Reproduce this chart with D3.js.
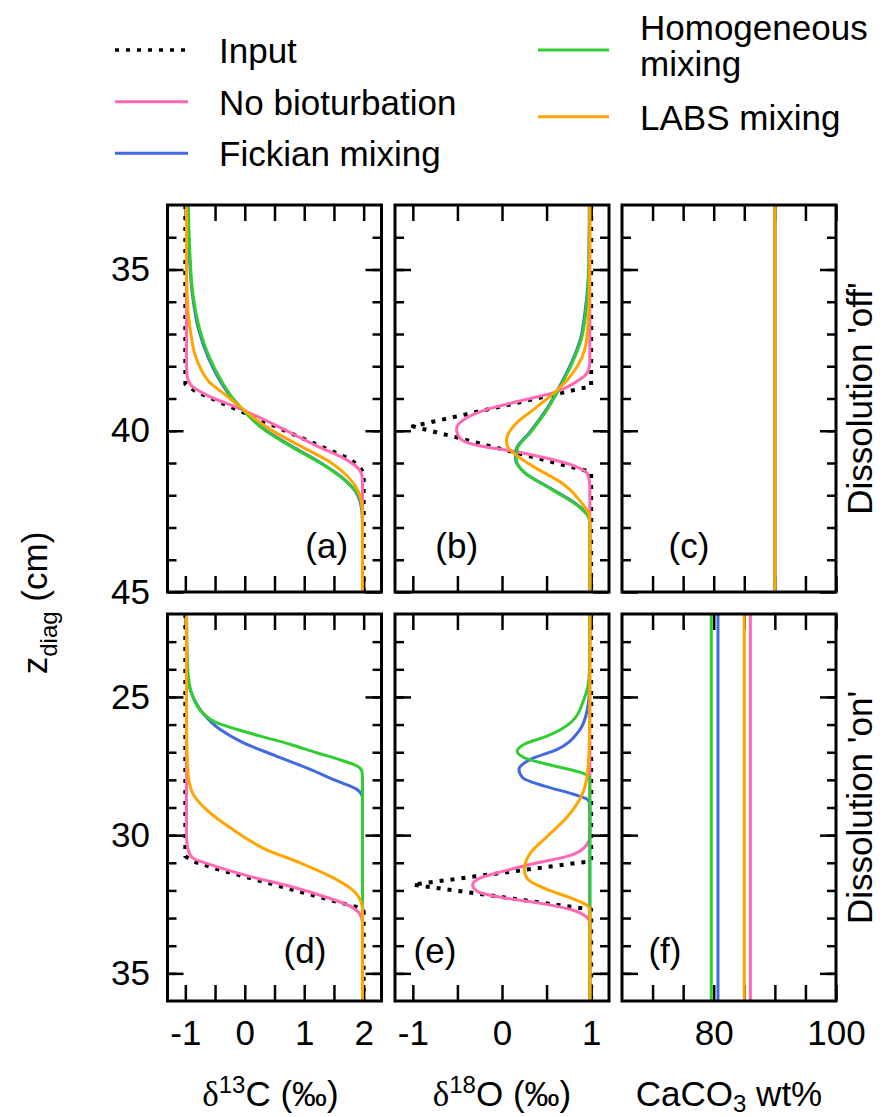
<!DOCTYPE html>
<html>
<head>
<meta charset="utf-8">
<script src="https://cdn.jsdelivr.net/npm/d3@7"></script>
<style>
  html, body { margin: 0; padding: 0; background: #fff; }
  svg { display: block; font-family: "Liberation Sans", Arial, Helvetica, sans-serif; }
</style>
</head>
<body>
<svg id="chart" width="888" height="1117"></svg>
<script>
// ---------------------------------------------------------------
// Profiles: each point is [depth z_diag (cm), value]
// ---------------------------------------------------------------

// δ13C, dissolution off
const d13cOffInput    = [[33,-1],[38.55,-1],[38.75,-0.85],[38.9,-0.68],[40.88,1.77],[41.1,1.92],[41.3,2],[45,2]];
const d13cOffNoBio    = [[33,-0.98],[37.9,-0.98],[38.3,-0.97],[38.6,-0.9],[38.91,-0.62],[39.38,0],[39.95,0.65],[40.47,1.21],[40.88,1.69],[41.19,1.92],[41.5,1.98],[45,1.98]];
const d13cOffFickian  = [[33,-0.96],[34.2,-0.94],[35.8,-0.88],[36.84,-0.78],[37.7,-0.62],[38.5,-0.4],[39.0,-0.21],[39.41,0],[39.95,0.33],[40.47,0.78],[41.0,1.28],[41.5,1.67],[42.0,1.9],[42.5,1.97],[43.0,1.98],[45,1.98]];
const d13cOffHomog    = [[33,-0.95],[34.2,-0.93],[35.8,-0.87],[36.84,-0.76],[37.7,-0.6],[38.5,-0.38],[39.0,-0.2],[39.41,0],[39.95,0.31],[40.47,0.76],[41.0,1.27],[41.5,1.66],[42.02,1.92],[42.54,1.98],[43.0,1.98],[45,1.98]];
const d13cOffLabs     = [[33,-0.98],[34.5,-0.98],[35.81,-0.97],[36.84,-0.92],[37.88,-0.79],[38.5,-0.59],[38.91,-0.31],[39.38,0],[39.95,0.42],[40.47,0.93],[40.98,1.44],[41.5,1.77],[42.02,1.94],[42.54,1.98],[45,1.98]];

// δ18O, dissolution off
const d18oOffInput    = [[33,1],[38.62,1],[39.86,-1],[41.28,1],[45,1]];
const d18oOffNoBio    = [[33,0.985],[37.88,0.985],[38.19,0.96],[38.45,0.85],[38.81,0.59],[39.07,0.21],[39.33,-0.16],[39.59,-0.39],[39.95,-0.51],[40.26,-0.46],[40.47,-0.24],[40.62,0.1],[40.83,0.47],[41.09,0.81],[41.35,0.96],[41.71,0.985],[45,0.985]];
const d18oOffFickian  = [[33,0.98],[34.77,0.975],[36.33,0.93],[37.15,0.88],[37.88,0.78],[38.6,0.65],[39.33,0.5],[40.05,0.31],[40.57,0.16],[40.85,0.15],[41.29,0.25],[41.81,0.56],[42.33,0.86],[42.74,0.98],[43.05,0.985],[45,0.985]];
const d18oOffHomog    = [[33,0.98],[34.77,0.975],[36.33,0.94],[37.15,0.89],[37.88,0.79],[38.6,0.66],[39.33,0.51],[40.05,0.32],[40.57,0.17],[40.88,0.16],[41.29,0.25],[41.81,0.55],[42.33,0.85],[42.74,0.98],[43.05,0.985],[45,0.985]];
const d18oOffLabs     = [[33,0.985],[35.81,0.98],[36.84,0.96],[37.46,0.93],[37.98,0.85],[38.4,0.74],[38.81,0.59],[39.33,0.36],[39.74,0.17],[40.16,0.06],[40.31,0.05],[40.47,0.06],[40.78,0.17],[41.19,0.4],[41.6,0.66],[42.23,0.89],[42.64,0.98],[43.05,0.985],[45,0.985]];

// CaCO3 wt% (No bioturbation, Fickian, Homogeneous, LABS)
const caco3Off = [90, 90, 90, 90];
const caco3On  = [86.0, 80.7, 79.6, 85.0];

// δ13C, dissolution on
const d13cOnInput     = [[22,-1],[30.76,-1],[30.94,-0.88],[31.22,-0.48],[32.51,1.72],[32.6,1.88],[32.75,2],[36,2]];
const d13cOnNoBio     = [[22,-0.98],[30.04,-0.98],[30.46,-0.96],[30.82,-0.88],[31.06,-0.59],[31.49,0.08],[31.85,0.76],[32.21,1.32],[32.57,1.77],[32.87,1.94],[33.18,1.98],[36,1.98]];
const d13cOnFickian   = [[22,-0.98],[24.12,-0.97],[24.84,-0.9],[25.57,-0.71],[26.17,-0.42],[26.65,-0.03],[27.14,0.53],[27.62,1.1],[28.04,1.55],[28.35,1.89],[28.65,1.98],[36,1.98]];
const d13cOnHomog     = [[22,-0.98],[23.51,-0.97],[24.24,-0.95],[24.96,-0.88],[25.57,-0.71],[25.93,-0.48],[26.17,-0.14],[26.41,0.25],[26.71,0.76],[27.02,1.21],[27.28,1.61],[27.5,1.89],[27.68,1.97],[27.98,1.98],[36,1.98]];
const d13cOnLabs      = [[22,-0.98],[26.0,-0.98],[27.14,-0.97],[27.86,-0.95],[28.47,-0.88],[29.07,-0.65],[29.8,-0.2],[30.52,0.36],[31.0,0.93],[31.49,1.44],[31.91,1.77],[32.33,1.94],[32.69,1.98],[36,1.98]];

// δ18O, dissolution on
const d18oOnInput     = [[22,1],[30.94,1],[31.79,-1],[32.69,1],[36,1]];
const d18oOnNoBio     = [[22,0.985],[30.04,0.985],[30.46,0.92],[30.76,0.74],[31.0,0.4],[31.3,0.02],[31.55,-0.24],[31.79,-0.33],[32.03,-0.28],[32.27,0.02],[32.45,0.4],[32.69,0.77],[33.0,0.96],[33.18,0.985],[36,0.985]];
const d18oOnFickian   = [[22,0.985],[24.72,0.98],[25.69,0.94],[26.29,0.85],[26.9,0.62],[27.26,0.32],[27.62,0.19],[27.92,0.23],[28.22,0.47],[28.53,0.81],[28.71,0.96],[28.89,0.985],[36,0.985]];
const d18oOnHomog     = [[22,0.985],[24.12,0.98],[25.08,0.92],[25.93,0.77],[26.41,0.51],[26.71,0.25],[26.96,0.17],[27.2,0.25],[27.5,0.59],[27.74,0.89],[27.92,0.985],[36,0.985]];
const d18oOnLabs      = [[22,0.985],[24.72,0.985],[26.53,0.98],[27.74,0.96],[28.59,0.89],[29.31,0.74],[30.04,0.51],[30.64,0.32],[31.24,0.25],[31.6,0.29],[31.97,0.51],[32.27,0.77],[32.51,0.94],[32.69,0.985],[36,0.985]];

// Axis ranges and tick values
const zDomainOff = [33, 45];
const zDomainOn  = [22, 36];
const zMajorOff  = [35, 40, 45];
const zMajorOn   = [25, 30, 35];
const d13cDomain = [-1.3, 2.3];
const d18oDomain = [-1.2, 1.2];
const caco3Domain = [65, 100];
const d13cTicks  = [-1, -0.5, 0, 0.5, 1, 1.5, 2];
const d18oTicks  = [-1, -0.5, 0, 0.5, 1];
const caco3Ticks = [70, 75, 80, 85, 90, 95, 100];
const d13cTickLabels  = [-1, 0, 1, 2];
const d18oTickLabels  = [-1, 0, 1];
const caco3TickLabels = [80, 100];

const seriesNames = ["Input", "No bioturbation", "Fickian mixing", "Homogeneous mixing", "LABS mixing"];

// ---------------------------------------------------------------
// Styling and layout
// ---------------------------------------------------------------
const seriesStyle = [
  { color: "#000000", width: 4, dash: "4,7" },
  { color: "#ff69b4", width: 3, dash: null },
  { color: "#4169e1", width: 3, dash: null },
  { color: "#32cd32", width: 3, dash: null },
  { color: "#ffa500", width: 3, dash: null }
];

const FS = 35;
const colX = [167.5, 395, 622];
const colW = 214;
const rowY = [205, 614];
const rowH = 387;

const svg = d3.select("#chart");

const zScales = [
  d3.scaleLinear().domain(zDomainOff).range([0, rowH]),
  d3.scaleLinear().domain(zDomainOn).range([0, rowH])
];
const zMajor = [zMajorOff, zMajorOn];
const zMinor = [d3.range(zDomainOff[0] + 1, zDomainOff[1]), d3.range(zDomainOn[0] + 1, zDomainOn[1])];

const columns = [
  { domain: d13cDomain,  ticks: d13cTicks,  labels: d13cTickLabels },
  { domain: d18oDomain,  ticks: d18oTicks,  labels: d18oTickLabels },
  { domain: caco3Domain, ticks: caco3Ticks, labels: caco3TickLabels }
];

// vertical CaCO3 profile spanning the whole depth range
const flatProfile = (v, zd) => [[zd[0], v], [zd[1], v]];

const panels = [
  { row: 0, col: 0, tag: "(a)", tagX: 326.7, tagY: 557.5,
    series: [d13cOffInput, d13cOffNoBio, d13cOffFickian, d13cOffHomog, d13cOffLabs] },
  { row: 0, col: 1, tag: "(b)", tagX: 456.7, tagY: 557.5,
    series: [d18oOffInput, d18oOffNoBio, d18oOffFickian, d18oOffHomog, d18oOffLabs] },
  { row: 0, col: 2, tag: "(c)", tagX: 689, tagY: 557.5,
    series: [null].concat(caco3Off.map(v => flatProfile(v, zDomainOff))) },
  { row: 1, col: 0, tag: "(d)", tagX: 305, tagY: 962.5,
    series: [d13cOnInput, d13cOnNoBio, d13cOnFickian, d13cOnHomog, d13cOnLabs] },
  { row: 1, col: 1, tag: "(e)", tagX: 435, tagY: 962.5,
    series: [d18oOnInput, d18oOnNoBio, d18oOnFickian, d18oOnHomog, d18oOnLabs] },
  { row: 1, col: 2, tag: "(f)", tagX: 665, tagY: 962.5,
    series: [null].concat(caco3On.map(v => flatProfile(v, zDomainOn))) }
];

function styleAxis(g) {
  g.select(".domain").remove();
  g.attr("font-size", FS).attr("font-family", null).attr("color", "#000");
  g.selectAll(".tick line").attr("stroke-width", 2.5);
}

panels.forEach((p, i) => {
  const cfg = columns[p.col];
  const x = d3.scaleLinear().domain(cfg.domain).range([0, colW]);
  const y = zScales[p.row];
  const g = svg.append("g").attr("transform", `translate(${colX[p.col]},${rowY[p.row]})`);

  const clipId = "clip" + i;
  g.append("clipPath").attr("id", clipId)
    .append("rect").attr("width", colW).attr("height", rowH);

  // ticks: depth (left and right, inward)
  const labelFmt = p.col === 0 ? d => String(d) : () => "";
  g.append("g").call(d3.axisLeft(y).tickValues(zMinor[p.row]).tickSizeInner(-9).tickSizeOuter(0).tickFormat(() => "")).call(styleAxis);
  g.append("g").call(d3.axisLeft(y).tickValues(zMajor[p.row]).tickSizeInner(-16).tickSizeOuter(0).tickPadding(17.5).tickFormat(labelFmt)).call(styleAxis);
  g.append("g").attr("transform", `translate(${colW},0)`)
    .call(d3.axisRight(y).tickValues(zMinor[p.row]).tickSizeInner(-9).tickSizeOuter(0).tickFormat(() => "")).call(styleAxis);
  g.append("g").attr("transform", `translate(${colW},0)`)
    .call(d3.axisRight(y).tickValues(zMajor[p.row]).tickSizeInner(-16).tickSizeOuter(0).tickFormat(() => "")).call(styleAxis);

  // ticks: value axis (top and bottom, inward)
  g.append("g").call(d3.axisTop(x).tickValues(cfg.ticks).tickSizeInner(-16).tickSizeOuter(0).tickFormat(() => "")).call(styleAxis);
  const showX = p.row === 1;
  g.append("g").attr("transform", `translate(0,${rowH})`)
    .call(d3.axisBottom(x).tickValues(cfg.ticks).tickSizeInner(-16).tickSizeOuter(0).tickPadding(19)
      .tickFormat(d => (showX && cfg.labels.includes(d)) ? String(d) : ""))
    .call(styleAxis);

  // profiles: the input as a straight dotted polyline, model results smoothed
  const inputLine = d3.line().x(d => x(d[1])).y(d => y(d[0])).curve(d3.curveLinear);
  const modelLine = d3.line().x(d => x(d[1])).y(d => y(d[0])).curve(d3.curveMonotoneY);
  const plot = g.append("g").attr("clip-path", `url(#${clipId})`);
  p.series.forEach((s, k) => {
    if (!s) return;
    const st = seriesStyle[k];
    plot.append("path")
      .datum(s)
      .attr("d", k === 0 ? inputLine : modelLine)
      .attr("fill", "none")
      .attr("stroke", st.color)
      .attr("stroke-width", st.width)
      .attr("stroke-dasharray", st.dash)
      .attr("stroke-linejoin", "round");
  });

  // frame
  g.append("rect")
    .attr("width", colW).attr("height", rowH)
    .attr("fill", "none").attr("stroke", "#000").attr("stroke-width", 3);

  // panel tag
  svg.append("text")
    .attr("x", p.tagX).attr("y", p.tagY)
    .attr("text-anchor", "middle").attr("font-size", FS)
    .text(p.tag);
});

// ---------------------------------------------------------------
// Axis titles
// ---------------------------------------------------------------
const titleY = 1106;
const serif = "'Liberation Serif', 'DejaVu Serif', serif";

const t1 = svg.append("text").attr("x", colX[0] + colW / 2 - 4).attr("y", titleY)
  .attr("text-anchor", "middle").attr("font-size", FS);
t1.append("tspan").attr("font-family", serif).text("δ");
t1.append("tspan").attr("font-size", 24).attr("dy", -13).text("13");
t1.append("tspan").attr("dy", 13).text("C (‰)");

const t2 = svg.append("text").attr("x", colX[1] + colW / 2).attr("y", titleY)
  .attr("text-anchor", "middle").attr("font-size", FS);
t2.append("tspan").attr("font-family", serif).text("δ");
t2.append("tspan").attr("font-size", 24).attr("dy", -13).text("18");
t2.append("tspan").attr("dy", 13).text("O (‰)");

const t3 = svg.append("text").attr("x", colX[2] + colW / 2).attr("y", titleY)
  .attr("text-anchor", "middle").attr("font-size", FS);
t3.append("tspan").text("CaCO");
t3.append("tspan").attr("font-size", 24).attr("dy", 6).text("3");
t3.append("tspan").attr("dy", -6).text(" wt%");

// depth axis title (rotated)
const zt = svg.append("text")
  .attr("transform", `translate(47,${(rowY[0] + rowY[1] + rowH) / 2}) rotate(-90)`)
  .attr("text-anchor", "middle").attr("font-size", FS);
zt.append("tspan").text("z");
zt.append("tspan").attr("font-size", 24).attr("dy", 10).text("diag");
zt.append("tspan").attr("dy", -10).text(" (cm)");

// row labels on the right
svg.append("text")
  .attr("transform", `translate(872,${rowY[0] + rowH / 2}) rotate(-90)`)
  .attr("text-anchor", "middle").attr("font-size", FS)
  .text("Dissolution 'off'");
svg.append("text")
  .attr("transform", `translate(872,${rowY[1] + rowH / 2}) rotate(-90)`)
  .attr("text-anchor", "middle").attr("font-size", FS)
  .text("Dissolution 'on'");

// ---------------------------------------------------------------
// Legend
// ---------------------------------------------------------------
const legendItems = [
  { idx: 0, x0: 115, x1: 188, y: 50,    lines: [seriesNames[0]] },
  { idx: 1, x0: 115, x1: 188, y: 101.7, lines: [seriesNames[1]] },
  { idx: 2, x0: 115, x1: 188, y: 153.3, lines: [seriesNames[2]] },
  { idx: 3, x0: 538, x1: 609, y: 50,    lines: ["Homogeneous", "mixing"] },
  { idx: 4, x0: 538, x1: 609, y: 116.7, lines: [seriesNames[4]] }
];
const legend = svg.append("g");
legendItems.forEach(it => {
  const st = seriesStyle[it.idx];
  legend.append("line")
    .attr("x1", it.x0).attr("x2", it.x1).attr("y1", it.y).attr("y2", it.y)
    .attr("stroke", st.color).attr("stroke-width", it.idx === 0 ? 3.5 : st.width)
    .attr("stroke-dasharray", st.dash);
  const tx = it.x1 + 31;
  if (it.lines.length === 1) {
    legend.append("text").attr("x", tx).attr("y", it.y + 13)
      .attr("font-size", FS).text(it.lines[0]);
  } else {
    legend.append("text").attr("x", tx).attr("y", it.y - 10)
      .attr("font-size", FS).text(it.lines[0]);
    legend.append("text").attr("x", tx).attr("y", it.y + 26)
      .attr("font-size", FS).text(it.lines[1]);
  }
});
</script>
</body>
</html>
